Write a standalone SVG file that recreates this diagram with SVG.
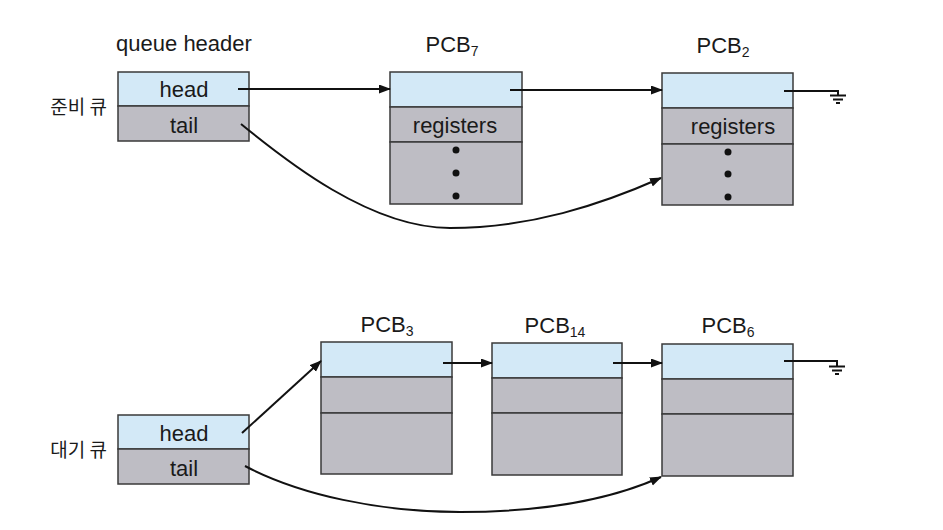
<svg xmlns="http://www.w3.org/2000/svg" width="943" height="530" viewBox="0 0 943 530">
<style>
  .blue { fill: #d3e9f7; stroke: #3a3a3a; stroke-width: 1.5; }
  .gray { fill: #bebdc4; stroke: #3a3a3a; stroke-width: 1.5; }
  .t { font-family: "Liberation Sans", Arial, sans-serif; font-size: 22px; fill: #1a1a1a; text-anchor: middle; }
  .sub { font-size: 14px; }
  .kr { font-family: "Noto Sans CJK KR", "Noto Sans", sans-serif; font-size: 19px; fill: #1a1a1a; text-anchor: end; }
  .ln { fill: none; stroke: #111; stroke-width: 2; }
  .arr { fill: none; stroke: #111; stroke-width: 2; marker-end: url(#ah); }
  .dot { fill: #111; }
</style>
<defs>
  <marker id="ah" markerUnits="userSpaceOnUse" markerWidth="12" markerHeight="10" refX="11" refY="4.5" orient="auto">
    <path d="M0,0 L12,4.5 L0,9 z" fill="#111"/>
  </marker>
</defs>
<rect width="943" height="530" fill="#ffffff"/>

<g id="ready-queue-header">
  <text class="t" x="184" y="51">queue header</text>
  <text class="kr" x="107" y="114">준비 큐</text>
  <rect class="blue" x="118" y="72" width="131" height="34"/>
  <rect class="gray" x="118" y="106" width="131" height="35"/>
  <text class="t" x="184" y="97">head</text>
  <text class="t" x="184" y="133">tail</text>
</g>

<g id="pcb7">
  <text class="t" x="452" y="52">PCB<tspan class="sub" dy="4">7</tspan></text>
  <rect class="blue" x="390" y="72" width="132" height="35"/>
  <rect class="gray" x="390" y="107" width="132" height="35"/>
  <rect class="gray" x="390" y="142" width="132" height="62"/>
  <text class="t" x="455" y="133">registers</text>
  <circle class="dot" cx="456" cy="150" r="3.5"/>
  <circle class="dot" cx="456" cy="173" r="3.5"/>
  <circle class="dot" cx="456" cy="196" r="3.5"/>
</g>

<g id="pcb2">
  <text class="t" x="723" y="53">PCB<tspan class="sub" dy="4">2</tspan></text>
  <rect class="blue" x="662" y="73" width="131" height="35"/>
  <rect class="gray" x="662" y="108" width="131" height="36"/>
  <rect class="gray" x="662" y="144" width="131" height="61"/>
  <text class="t" x="733" y="134">registers</text>
  <circle class="dot" cx="728" cy="152" r="3.5"/>
  <circle class="dot" cx="728" cy="174" r="3.5"/>
  <circle class="dot" cx="728" cy="197" r="3.5"/>
</g>

<g id="wait-queue-header">
  <text class="kr" x="107" y="457">대기 큐</text>
  <rect class="blue" x="118" y="415" width="131" height="34"/>
  <rect class="gray" x="118" y="449" width="131" height="35"/>
  <text class="t" x="184" y="441">head</text>
  <text class="t" x="184" y="476">tail</text>
</g>

<g id="pcb3">
  <text class="t" x="387" y="332">PCB<tspan class="sub" dy="4">3</tspan></text>
  <rect class="blue" x="321" y="342" width="131" height="35"/>
  <rect class="gray" x="321" y="377" width="131" height="36"/>
  <rect class="gray" x="321" y="413" width="131" height="61"/>
</g>

<g id="pcb14">
  <text class="t" x="555" y="333">PCB<tspan class="sub" dy="4">14</tspan></text>
  <rect class="blue" x="492" y="343" width="130" height="35"/>
  <rect class="gray" x="492" y="378" width="130" height="35"/>
  <rect class="gray" x="492" y="413" width="130" height="62"/>
</g>

<g id="pcb6">
  <text class="t" x="728" y="333">PCB<tspan class="sub" dy="4">6</tspan></text>
  <rect class="blue" x="662" y="344" width="131" height="35"/>
  <rect class="gray" x="662" y="379" width="131" height="35"/>
  <rect class="gray" x="662" y="414" width="131" height="62"/>
</g>

<g id="connectors">
  <line class="arr" x1="238" y1="89" x2="390" y2="89"/>
  <line class="arr" x1="510" y1="90" x2="662" y2="90"/>
  <path class="arr" d="M241,124 C285,160 370,228 450,228 C530,228 600,205 661,178"/>
  <path class="ln" d="M784,91 L838,91 L838,95"/>
  <line class="ln" x1="830" y1="95.5" x2="846" y2="95.5"/>
  <line class="ln" x1="833" y1="99.5" x2="843" y2="99.5"/>
  <line class="ln" x1="836" y1="103" x2="840" y2="103"/>

  <line class="arr" x1="242" y1="433" x2="321" y2="361"/>
  <line class="arr" x1="443" y1="363" x2="492" y2="363"/>
  <line class="arr" x1="613" y1="363" x2="662" y2="363"/>
  <path class="arr" d="M245,466 C300,495 380,512 460,512 C540,512 610,500 661,477"/>
  <path class="ln" d="M784,361 L837,361 L837,366"/>
  <line class="ln" x1="829" y1="366.5" x2="845" y2="366.5"/>
  <line class="ln" x1="832" y1="370.5" x2="842" y2="370.5"/>
  <line class="ln" x1="835" y1="374" x2="839" y2="374"/>
</g>
</svg>
